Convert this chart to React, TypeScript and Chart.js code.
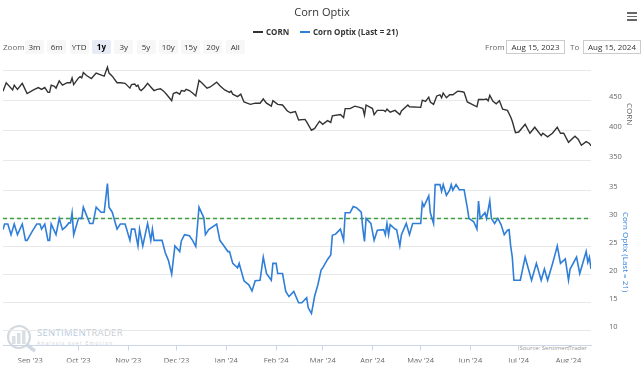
import React, { useEffect, useRef } from 'react';
import { Chart, registerables } from 'chart.js';
Chart.register(...registerables);

const START_DATE = '2023-08-15';
const END_DATE = '2024-08-15';

const cornDates = [
  '2023-08-15','2023-08-17','2023-08-21','2023-08-22','2023-08-24','2023-08-27','2023-08-30','2023-09-03','2023-09-06','2023-09-08',
  '2023-09-10','2023-09-12','2023-09-13','2023-09-14','2023-09-16','2023-09-17','2023-09-19','2023-09-21','2023-09-24','2023-09-26',
  '2023-09-27','2023-09-28','2023-10-01','2023-10-02','2023-10-03','2023-10-04','2023-10-06','2023-10-09','2023-10-12','2023-10-14',
  '2023-10-17','2023-10-19','2023-10-20','2023-10-22','2023-10-25','2023-10-27','2023-10-30','2023-11-02','2023-11-03','2023-11-05',
  '2023-11-06','2023-11-07','2023-11-08','2023-11-09','2023-11-11','2023-11-13','2023-11-15','2023-11-17','2023-11-19','2023-11-21',
  '2023-11-23','2023-11-25','2023-11-28','2023-11-29','2023-12-01','2023-12-03','2023-12-04','2023-12-06','2023-12-07','2023-12-09',
  '2023-12-11','2023-12-13','2023-12-15','2023-12-17','2023-12-20','2023-12-22','2023-12-26','2023-12-28','2023-12-31','2024-01-03',
  '2024-01-04','2024-01-05','2024-01-08','2024-01-10','2024-01-12','2024-01-16','2024-01-19','2024-01-22','2024-01-24','2024-01-26',
  '2024-01-29','2024-01-30','2024-02-02','2024-02-05','2024-02-08','2024-02-10','2024-02-13','2024-02-15','2024-02-19','2024-02-20',
  '2024-02-23','2024-02-25','2024-02-28','2024-03-01','2024-03-04','2024-03-06','2024-03-07','2024-03-12','2024-03-14','2024-03-15',
  '2024-03-18','2024-03-21','2024-03-24','2024-03-26','2024-03-27','2024-03-28','2024-04-01','2024-04-02','2024-04-04','2024-04-08',
  '2024-04-09','2024-04-10','2024-04-12','2024-04-15','2024-04-18','2024-04-19','2024-04-23','2024-04-24','2024-05-01','2024-05-02',
  '2024-05-04','2024-05-06','2024-05-07','2024-05-09','2024-05-11','2024-05-13','2024-05-14','2024-05-15','2024-05-17','2024-05-19',
  '2024-05-21','2024-05-24','2024-05-27','2024-05-28','2024-05-30','2024-06-02','2024-06-05','2024-06-06','2024-06-09','2024-06-11',
  '2024-06-12','2024-06-13','2024-06-15','2024-06-17','2024-06-19','2024-06-21','2024-06-24','2024-06-26','2024-06-27','2024-06-29',
  '2024-07-01','2024-07-05','2024-07-08','2024-07-11','2024-07-15','2024-07-16','2024-07-19','2024-07-22','2024-07-25','2024-07-27',
  '2024-07-29','2024-08-01','2024-08-05','2024-08-07','2024-08-09','2024-08-12','2024-08-14','2024-08-15',
];
const cornValues = [
  466,480,468,476,469,479,462,468,472,469,
  472,464,464,476,474,471,483,476,480,480,
  488,477,488,490,488,497,492,487,496,494,
  491,506,496,491,480,480,479,471,477,478,
  474,476,469,467,472,479,473,467,469,470,
  466,460,450,462,464,461,467,466,469,467,
  463,458,484,479,471,473,481,475,468,464,
  466,461,457,461,448,444,446,446,453,446,
  441,450,444,443,433,430,432,418,419,415,
  401,404,416,411,417,414,425,427,422,437,
  437,441,439,437,426,443,437,427,434,434,
  432,436,431,434,427,433,443,440,439,451,
  449,456,448,444,458,460,455,463,455,460,
  460,466,465,464,448,444,440,452,452,453,
  450,459,449,445,450,436,434,423,416,397,
  398,411,396,406,392,396,390,396,406,396,
  396,381,391,386,376,382,379,375,
];

const optixDates = [
  '2023-08-15','2023-08-16','2023-08-18','2023-08-20','2023-08-22','2023-08-24','2023-08-27','2023-08-29','2023-08-30','2023-09-02',
  '2023-09-05','2023-09-07','2023-09-08','2023-09-10','2023-09-12','2023-09-13','2023-09-14','2023-09-17','2023-09-19','2023-09-21',
  '2023-09-23','2023-09-25','2023-09-26','2023-09-27','2023-09-28','2023-10-01','2023-10-03','2023-10-04','2023-10-08','2023-10-10',
  '2023-10-12','2023-10-15','2023-10-17','2023-10-19','2023-10-20','2023-10-22','2023-10-24','2023-10-25','2023-10-27','2023-10-30',
  '2023-11-02','2023-11-03','2023-11-05','2023-11-07','2023-11-08','2023-11-10','2023-11-13','2023-11-15','2023-11-16','2023-11-17',
  '2023-11-22','2023-11-24','2023-11-26','2023-11-28','2023-11-30','2023-12-03','2023-12-04','2023-12-06','2023-12-09','2023-12-11',
  '2023-12-13','2023-12-15','2023-12-18','2023-12-19','2023-12-21','2023-12-26','2023-12-28','2023-12-30','2024-01-02','2024-01-03',
  '2024-01-05','2024-01-08','2024-01-09','2024-01-12','2024-01-15','2024-01-17','2024-01-19','2024-01-22','2024-01-24','2024-01-26',
  '2024-01-29','2024-01-30','2024-02-01','2024-02-02','2024-02-05','2024-02-07','2024-02-09','2024-02-12','2024-02-15','2024-02-17',
  '2024-02-20','2024-02-21','2024-02-23','2024-02-25','2024-02-27','2024-02-29','2024-03-01','2024-03-04','2024-03-06','2024-03-07',
  '2024-03-09','2024-03-12','2024-03-14','2024-03-15','2024-03-18','2024-03-20','2024-03-22','2024-03-25','2024-03-26','2024-03-27',
  '2024-03-28','2024-03-31','2024-04-02','2024-04-04','2024-04-08','2024-04-09','2024-04-10','2024-04-11','2024-04-12','2024-04-15',
  '2024-04-16','2024-04-18','2024-04-19','2024-04-22','2024-04-24','2024-04-26','2024-05-01','2024-05-02','2024-05-03','2024-05-06',
  '2024-05-07','2024-05-09','2024-05-10','2024-05-13','2024-05-14','2024-05-15','2024-05-17','2024-05-19','2024-05-20','2024-05-21',
  '2024-05-23','2024-05-25','2024-05-28','2024-05-30','2024-05-31','2024-06-03','2024-06-05','2024-06-06','2024-06-07','2024-06-10',
  '2024-06-11','2024-06-13','2024-06-14','2024-06-16','2024-06-18','2024-06-20','2024-06-22','2024-06-24','2024-06-25','2024-06-26',
  '2024-06-27','2024-06-28','2024-07-02','2024-07-05','2024-07-09','2024-07-12','2024-07-15','2024-07-17','2024-07-19','2024-07-22',
  '2024-07-24','2024-07-25','2024-07-27','2024-07-30','2024-08-01','2024-08-02','2024-08-06','2024-08-08','2024-08-12','2024-08-13',
  '2024-08-14','2024-08-15',
];
const optixValues = [
  28,29,29,27.1,29,27.1,29,26.1,26.1,27.6,
  29,29,28.1,29,26.1,26.1,29,27.1,30,28,
  28.5,29.2,29.2,31,27.1,30,30,32,29.1,29.1,
  32,31.1,31.1,36.2,32,31.1,29.1,28.1,29,29,
  26.1,28.1,28.1,25.1,28.1,25.1,29.1,26.1,28.1,26.1,
  26.1,23.9,22.5,20.1,25.1,24.1,26,27.1,26.9,26.1,
  25,32,30.1,27.1,28,29,26.1,25.3,24.1,24.1,
  22,21.2,22,18.9,18.2,17.1,18.9,19,23.1,20.2,
  19,22,22,20.2,20.2,17,16.1,17,15,15,
  15.9,14.1,13.1,16.2,18.2,20.8,21.2,22.7,23.5,27,
  27.2,28.1,26.1,31,31,32.1,31.9,31.1,28.1,25.9,
  30,29.1,26.1,27.9,28,27.1,29.1,27.1,28.9,28.1,
  28,25.1,27.1,29.1,27.1,29.1,29.1,32.8,32.1,34,
  31,29.1,36,36,34.8,36,34.1,35,36,35,
  36,35.1,35.1,31.9,30,29.4,28.1,33.1,30,31,
  30,33.1,30,29.1,30,28.9,27.1,27.9,28,25.1,
  23.1,19,19,23.1,19,22,19,21,19,21.9,
  24,25.1,22,22.8,19,21,23.1,20.2,24.1,22.2,
  23.1,21,
];

const thresholdValue = 30;
const monthTickDates = ['2023-09-01','2023-10-01','2023-11-01','2023-12-01','2024-01-01','2024-02-01','2024-03-01','2024-04-01','2024-05-01','2024-06-01','2024-07-01','2024-08-01'];
const monthLabels = ["Sep '23","Oct '23","Nov '23","Dec '23","Jan '24","Feb '24","Mar '24","Apr '24","May '24","Jun '24","Jul '24","Aug '24"];
const cornTicks = [350, 400, 450, 500];
const optixTicks = [10, 15, 20, 25, 30, 35];
const zoomButtons = ['3m', '6m', 'YTD', '1y', '3y', '5y', '10y', '15y', '20y', 'All'];
const selectedZoom = '1y';

const FONT = '"Open Sans", "DejaVu Sans", sans-serif';
const dayOf = (s: string) => (Date.parse(s + 'T00:00:00Z') - Date.parse(START_DATE + 'T00:00:00Z')) / 86400000;

export default function App() {
  const ref = useRef<HTMLCanvasElement | null>(null);
  useEffect(() => {
    if (!ref.current) return;
    const total = dayOf(END_DATE);
    const yTickFont = { size: 7.5, family: FONT, lineHeight: 1 };
    const chart = new Chart(ref.current, {
      type: 'line',
      data: {
        datasets: [
          {
            label: 'Threshold',
            data: [{ x: 0, y: thresholdValue }, { x: total, y: thresholdValue }],
            yAxisID: 'y1',
            borderColor: '#3f9f3f',
            borderWidth: 1.5,
            borderDash: [4, 3],
            pointRadius: 0,
            order: 3,
          },
          {
            label: 'CORN',
            data: cornDates.map((d, i) => ({ x: dayOf(d), y: cornValues[i] })),
            yAxisID: 'y',
            borderColor: '#333333',
            borderWidth: 1.4,
            pointRadius: 0,
            tension: 0,
            order: 1,
          },
          {
            label: 'Corn Optix (Last = 21)',
            data: optixDates.map((d, i) => ({ x: dayOf(d), y: optixValues[i] })),
            yAxisID: 'y1',
            borderColor: '#2f7ed8',
            borderWidth: 1.6,
            pointRadius: 0,
            tension: 0,
            order: 2,
          },
        ],
      },
      options: {
        responsive: false,
        animation: false,
        events: [],
        layout: { padding: { left: 3, top: 62, right: 0, bottom: 0 } },
        plugins: { legend: { display: false }, title: { display: false }, tooltip: { enabled: false } },
        scales: {
          x: {
            type: 'linear',
            min: 0,
            max: total,
            afterBuildTicks: (ax: any) => { ax.ticks = monthTickDates.map((d) => ({ value: dayOf(d) })); },
            afterFit: (s: any) => { s.height = 17; },
            ticks: {
              autoSkip: false,
              maxRotation: 0,
              padding: 6,
              color: '#666666',
              font: { size: 7.5, family: FONT },
              callback: (_v: any, i: number) => monthLabels[i],
            },
            grid: { drawOnChartArea: false, drawTicks: true, tickLength: 5, color: '#ccd6eb' },
            border: { display: true, color: '#ccd6eb' },
          },
          y: {
            type: 'linear',
            position: 'right',
            stack: 'panes',
            stackWeight: 113,
            min: 332,
            max: 514.5,
            afterBuildTicks: (ax: any) => { ax.ticks = cornTicks.map((v) => ({ value: v })); },
            afterFit: (s: any) => { s.width = 53; },
            ticks: {
              autoSkip: false,
              padding: 18,
              color: '#666666',
              font: yTickFont,
              callback: (v: any) => (v === cornTicks[cornTicks.length - 1] ? '' : [String(v), '']),
            },
            grid: { color: '#e8e8e8', drawTicks: false },
            border: { display: false },
          },
          y1: {
            type: 'linear',
            position: 'right',
            stack: 'panes',
            stackWeight: 179,
            min: 7.4,
            max: 38.3,
            afterBuildTicks: (ax: any) => { ax.ticks = optixTicks.map((v) => ({ value: v })); },
            afterFit: (s: any) => { s.width = 53; },
            ticks: {
              autoSkip: false,
              padding: 18,
              color: '#666666',
              font: yTickFont,
              callback: (v: any) => [String(v), ''],
            },
            grid: { color: '#e8e8e8', drawTicks: false },
            border: { display: false },
          },
        },
      },
    } as any);
    return () => chart.destroy();
  }, []);

  const abs = (s: React.CSSProperties): React.CSSProperties => ({ position: 'absolute', ...s });
  const btnBase: React.CSSProperties = {
    position: 'absolute', top: 40, width: 19, height: 14, lineHeight: '14px', textAlign: 'center',
    fontSize: 8, color: '#333', background: '#f7f7f7', borderRadius: 2, fontFamily: FONT,
  };

  return (
    <div style={{ position: 'fixed', left: 0, top: 0, width: 644, height: 371, background: '#fff', fontFamily: FONT, overflow: 'hidden' }}>
      {/* watermark (under the canvas) */}
      <svg style={abs({ left: 3, top: 324, width: 36, height: 28 })} viewBox="0 0 36 28">
        <circle cx="16" cy="13" r="11" fill="none" stroke="#d3d9df" strokeWidth="2.2" />
        <rect x="9" y="12" width="3.5" height="8" fill="#dadfe4" />
        <rect x="14" y="9" width="3.5" height="11" fill="#dadfe4" />
        <rect x="19" y="6" width="3.5" height="14" fill="#dadfe4" />
        <line x1="24" y1="21" x2="32" y2="27" stroke="#d3d9df" strokeWidth="3.5" />
      </svg>
      <div style={abs({ left: 37, top: 327, fontSize: 9.5, letterSpacing: 0.3, lineHeight: '12px', whiteSpace: 'nowrap' })}>
        <span style={{ color: '#b7cbe0' }}>SENTIMEN</span><span style={{ color: '#c9cdd2' }}>TRADER</span>
      </div>
      <div style={abs({ left: 37, top: 340, fontSize: 5, letterSpacing: 1.2, color: '#cfd3d8', lineHeight: '7px', whiteSpace: 'nowrap' })}>
        Analysis over Emotion
      </div>
      <div style={abs({ left: 480, width: 107, top: 344, fontSize: 6, color: '#999', textAlign: 'right', lineHeight: '8px' })}>
        Source: SentimenTrader
      </div>

      <canvas ref={ref} width={644} height={371} style={abs({ left: 0, top: 0, width: 644, height: 371 })} />

      {/* header */}
      <div style={abs({ left: 0, top: 4, width: 644, textAlign: 'center', fontSize: 11, color: '#333', lineHeight: '16px' })}>Corn Optix</div>
      {[0, 1, 2].map((i) => (
        <div key={i} style={abs({ left: 627, top: 12 + i * 3.5, width: 10, height: 1.5, background: '#666' })} />
      ))}
      <div style={abs({ left: 253, top: 31, width: 10, height: 2, background: '#333' })} />
      <div style={abs({ left: 266, top: 26, fontSize: 8, fontWeight: 'bold', color: '#333', lineHeight: '12px', whiteSpace: 'nowrap' })}>CORN</div>
      <div style={abs({ left: 300, top: 31, width: 10, height: 2, background: '#2f7ed8' })} />
      <div style={abs({ left: 313, top: 26, fontSize: 8, fontWeight: 'bold', color: '#333', lineHeight: '12px', whiteSpace: 'nowrap' })}>Corn Optix (Last = 21)</div>

      <div style={abs({ left: 3, top: 40, fontSize: 8, color: '#666', lineHeight: '14px' })}>Zoom</div>
      {zoomButtons.map((b, i) => (
        <div key={b} style={{ ...btnBase, left: 25 + i * 22.3, ...(b === selectedZoom ? { background: '#e6ebf5', fontWeight: 'bold', color: '#000' } : {}) }}>{b}</div>
      ))}
      <div style={abs({ left: 485, top: 40, fontSize: 8, color: '#666', lineHeight: '14px' })}>From</div>
      <div style={abs({ left: 506, top: 40, width: 57, height: 12, border: '1px solid #ccc', fontSize: 8, color: '#333', lineHeight: '12px', textAlign: 'center' })}>Aug 15, 2023</div>
      <div style={abs({ left: 570, top: 40, fontSize: 8, color: '#666', lineHeight: '14px' })}>To</div>
      <div style={abs({ left: 583, top: 40, width: 56, height: 12, border: '1px solid #ccc', fontSize: 8, color: '#333', lineHeight: '12px', textAlign: 'center' })}>Aug 15, 2024</div>

      {/* axis titles */}
      <div style={abs({ left: 624, top: 84, width: 12, height: 60, writingMode: 'vertical-rl', fontSize: 8, color: '#666', lineHeight: '12px', textAlign: 'center', whiteSpace: 'nowrap' })}>CORN</div>
      <div style={abs({ left: 620, top: 192, width: 12, height: 120, writingMode: 'vertical-rl', fontSize: 8, color: '#2f7ed8', lineHeight: '12px', textAlign: 'center', whiteSpace: 'nowrap' })}>Corn Optix (Last = 21)</div>
    </div>
  );
}
